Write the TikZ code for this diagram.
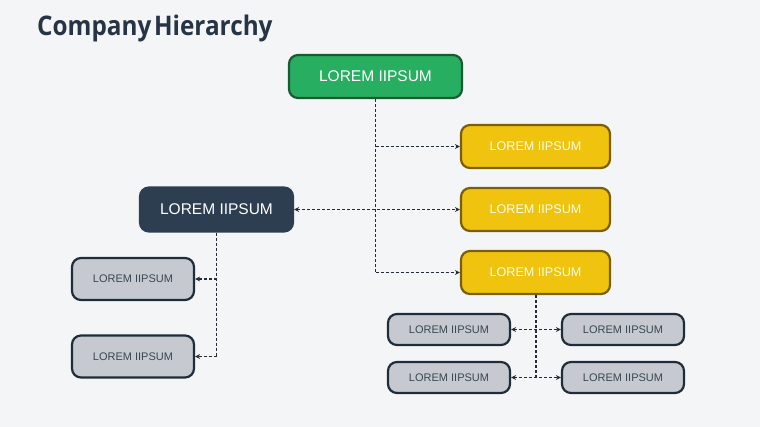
\documentclass[tikz,border=0pt]{standalone}
\usepackage{fontspec}
\usepackage{graphicx}
\setmainfont{Liberation Sans}
\newfontfamily\titlefont{Open Sans}
\usetikzlibrary{arrows.meta}
\definecolor{bgc}{HTML}{F4F5F7}
\definecolor{titlec}{HTML}{263445}
\definecolor{greenf}{HTML}{27AE60}
\definecolor{greend}{HTML}{1B5A31}
\definecolor{yellowf}{HTML}{F0C30F}
\definecolor{yellowd}{HTML}{7A5E08}
\definecolor{navyf}{HTML}{2C3E50}
\definecolor{greyf}{HTML}{C6CAD0}
\definecolor{greyd}{HTML}{1F2D3A}
\definecolor{greyt}{HTML}{3A4652}
\definecolor{linec}{HTML}{222C38}
\tikzset{
  box/.style={rounded corners=9pt, line width=2.2pt, inner sep=0pt, align=center},
  greenbox/.style={box, fill=greenf, draw=greend, minimum width=173pt, minimum height=43pt, text=white, font=\fontsize{15.5}{18}\selectfont},
  yellowbox/.style={box, fill=yellowf, draw=yellowd, minimum width=149pt, minimum height=43pt, text=white!90!yellow, font=\fontsize{12.6}{15}\selectfont},
  navybox/.style={box, fill=navyf, draw=navyf, minimum width=153pt, minimum height=44pt, text=white, font=\fontsize{15.5}{18}\selectfont},
  greybox/.style={box, fill=greyf, draw=greyd, minimum width=122pt, text=greyt, font=\fontsize{11}{13}\selectfont},
  conn/.style={draw=linec, line width=1.2pt, dash pattern=on 3pt off 2pt},
  tip/.style={-{Stealth[length=5pt,width=5pt]}},
  tips/.style={{Stealth[length=5pt,width=5pt]}-{Stealth[length=5pt,width=5pt]}}
}
\begin{document}
\begin{tikzpicture}[x=1pt,y=-1pt]
\fill[bgc] (0,0) rectangle (760,427);
\useasboundingbox (0,0) rectangle (760,427);
\node[anchor=west, text=titlec, font=\titlefont\bfseries\fontsize{27}{30}\selectfont, inner sep=0pt] (title) at (37,28) {\scalebox{0.9}[1]{Company\kern3pt Hierarchy}};

\node[greenbox] (ceo) at (375.5,76.5) {LOREM IIPSUM};
\node[yellowbox] (y1) at (535.5,146.5) {LOREM IIPSUM};
\node[yellowbox] (y2) at (535.5,209.5) {LOREM IIPSUM};
\node[yellowbox] (y3) at (535.5,272.5) {LOREM IIPSUM};
\node[navybox] (nv) at (216.5,209.5) {LOREM IIPSUM};
\node[greybox, minimum height=42pt] (l1) at (133,279) {LOREM IIPSUM};
\node[greybox, minimum height=42pt] (l2) at (133,356.5) {LOREM IIPSUM};
\node[greybox, minimum height=31pt] (r1) at (449,329.5) {LOREM IIPSUM};
\node[greybox, minimum height=31pt] (r2) at (449,377.5) {LOREM IIPSUM};
\node[greybox, minimum height=31pt] (r3) at (623,329.5) {LOREM IIPSUM};
\node[greybox, minimum height=31pt] (r4) at (623,377.5) {LOREM IIPSUM};

% green trunk
\draw[conn] (ceo.south) -- (ceo.south |- y3.west);
\draw[conn,tip] (ceo.south |- y1.west) -- (y1.west);
\draw[conn,tip] (ceo.south |- y3.west) -- (y3.west);
\draw[conn,tips] (nv.east) -- (y2.west);
% navy trunk
\draw[conn] (nv.south) -- (nv.south |- l2.east);
\draw[conn,tip] (nv.south |- l1.east) -- (l1.east);
\draw[conn,tip] (nv.south |- l2.east) -- (l2.east);
% yellow 3 trunk
\coordinate (yt) at ([xshift=0.5pt]y3.south);
\draw[conn] (yt) -- (yt |- r2.east);
\draw[conn,tips] (r1.east) -- (r3.west);
\draw[conn,tips] (r2.east) -- (r4.west);
\end{tikzpicture}
\end{document}
